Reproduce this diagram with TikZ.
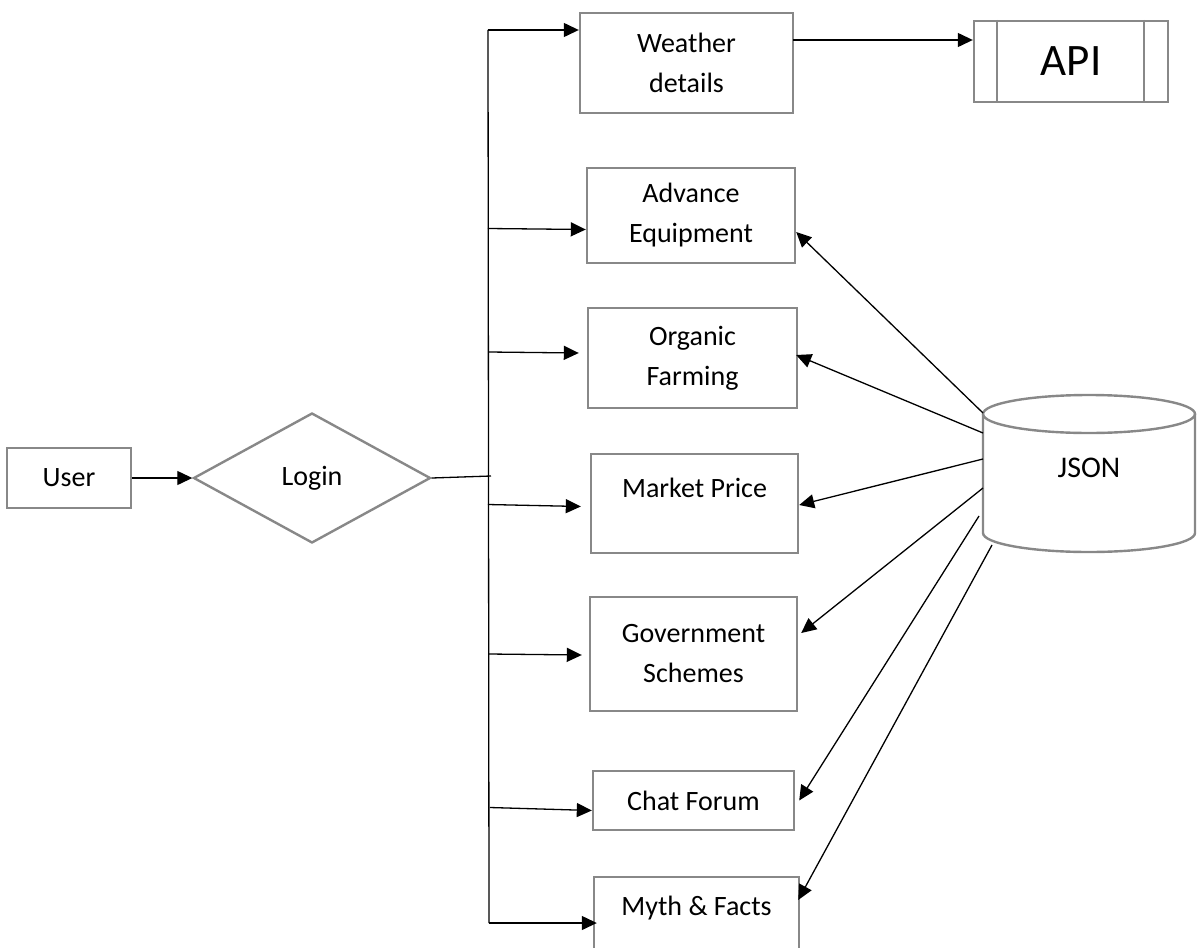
\documentclass[tikz,border=0pt]{standalone}
\usepackage{fontspec}
\setmainfont{Carlito}
\usetikzlibrary{arrows.meta,shapes.geometric,calc}
\definecolor{boxgray}{RGB}{136,136,136}

\begin{document}
\begin{tikzpicture}[x=1pt,y=-1pt,
  boxline/.style={draw=boxgray, line width=2.4pt},
  box/.style={boxline, rectangle, inner sep=0pt, align=center,
              font=\fontsize{28}{40}\selectfont},
  wire/.style={line width=1.3pt},
  arr/.style={wire, -{Triangle[length=15pt,width=14pt]}}]

\useasboundingbox (0,0) rectangle (1198,947);
\clip (0,0) rectangle (1198,947);

% entry
\node[box, minimum width=124pt, minimum height=60pt] (user) at (69,478) {User};
\node[boxline, diamond, inner sep=0pt, minimum width=237pt, minimum height=130pt,
      font=\fontsize{28}{40}\selectfont] (login) at (312,478) {Login};

% modules
\node[box, minimum width=213pt, minimum height=100pt] (weather) at (686.5,63) {Weather\\details};
\node[box, minimum width=208pt, minimum height=95pt]  (advance) at (691,215.5) {\raisebox{-4pt}{Advance}\\\raisebox{-4pt}{Equipment}};
\node[box, minimum width=209pt, minimum height=100pt] (organic) at (692.5,358) {Organic\\Farming};
\node[box, minimum width=207pt, minimum height=99pt]  (market)  at (694.5,503.5) {Market Price\\[-21pt]\strut};
\node[box, minimum width=207pt, minimum height=114pt] (govt)    at (693.5,654) {Government\\Schemes};
\node[box, minimum width=201pt, minimum height=59pt]  (chat)    at (693.5,800.5) {Chat Forum};
\node[box, minimum width=205pt, minimum height=100pt] (myth)    at (696.5,927) {Myth \& Facts\\[-10pt]\strut};

% external API
\node[box, minimum width=194pt, minimum height=81pt, font=\fontsize{45}{54}\selectfont] (api) at (1071,61.5) {API};
\draw[boxline] ($(api.north west)+(24,0)$) -- ($(api.south west)+(24,0)$);
\draw[boxline] ($(api.north east)+(-25,0)$) -- ($(api.south east)+(-25,0)$);

% JSON data store
\draw[boxline, fill=white] (983,414) -- (983,533) arc[start angle=180, end angle=0, x radius=106, y radius=19] -- (1195,414);
\draw[boxline] (1089,414) ellipse[x radius=106, y radius=19];
\node[font=\fontsize{30}{36}\selectfont] (json) at (1089,468) {JSON};
\coordinate (j1) at (983,413);
\coordinate (j2) at (983,433);
\coordinate (j3) at (983,459);
\coordinate (j4) at (983,488);
\coordinate (j5) at (979,516);
\coordinate (j6) at (992,545);

% trunk from login
\coordinate (ttop) at (488,30);
\coordinate (tbot) at (489,923);
\coordinate (tj) at (491,476);
\draw[arr] (user) -- (login);
\draw[wire] (login.east) -- (tj);
\draw[wire] (ttop) -- (tbot);

\draw[arr] (ttop) -- (weather.west |- ttop);
\draw[arr] ($(advance.west)+(-98,13)$) -- ($(advance.west)+(0,14)$);
\draw[arr] ($(organic.west)+(-98,-6)$) -- ($(organic.west)+(-8,-5)$);
\draw[arr] ($(market.west)+(-102,1)$) -- ($(market.west)+(-9,3)$);
\draw[arr] ($(govt.west)+(-100,0)$) -- ($(govt.west)+(-7,1)$);
\draw[arr] ($(chat.west)+(-102,7)$) -- ($(chat.west)+(0,10)$);
\draw[arr] (tbot) -- ($(myth.west)+(4,-4)$);

% API link
\coordinate (wa) at (793,40);
\draw[arr] (wa) -- (wa -| api.west);

% data feeds
\draw[arr] (j1) -- ($(advance.east)+(0,16.5)$);
\draw[arr] (j2) -- ($(organic.east)+(-2,-3)$);
\draw[arr] (j3) -- ($(market.east)+(0,1.5)$);
\draw[arr] (j4) -- ($(govt.east)+(3,-21)$);
\draw[arr] (j5) -- ($(chat.east)+(4,0)$);
\draw[arr] (j6) -- ($(myth.east)+(-2,-27)$);
\end{tikzpicture}
\end{document}
